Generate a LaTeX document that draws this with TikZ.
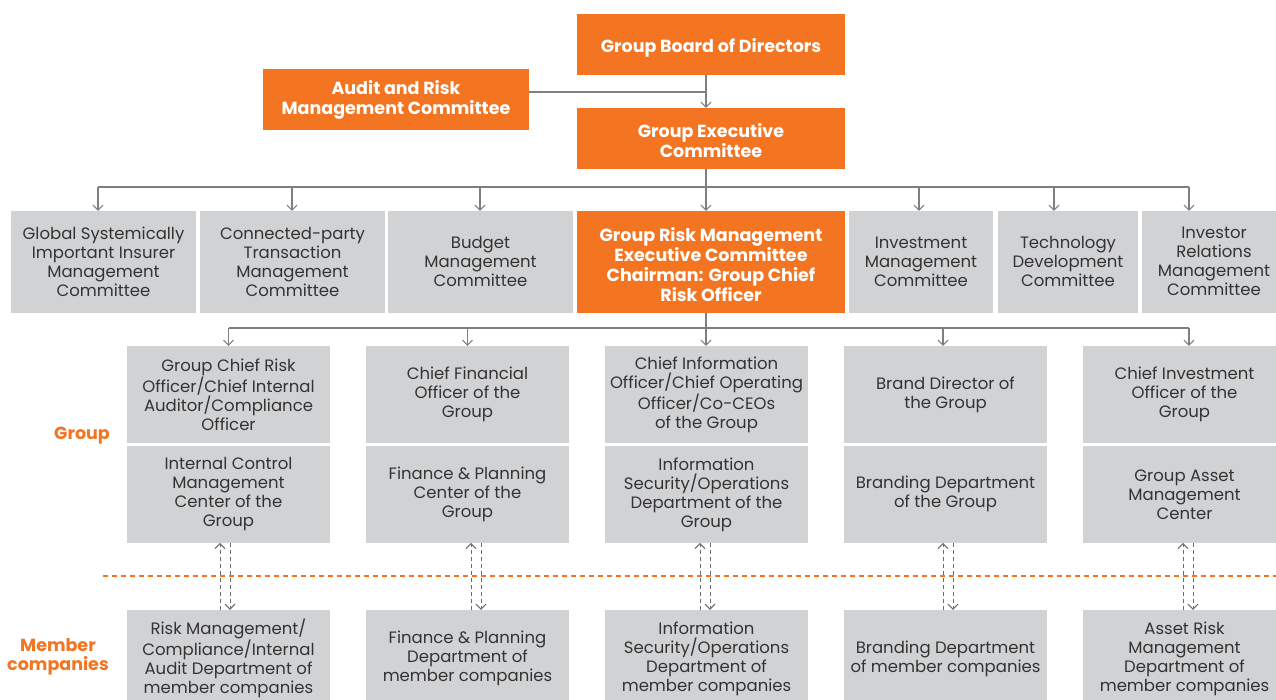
\documentclass[tikz,border=0pt]{standalone}
\usepackage{fontspec}
\setmainfont{Poppins}
\usetikzlibrary{arrows.meta}
\definecolor{pao}{HTML}{F37521}
\definecolor{paogray}{HTML}{D1D2D4}
\definecolor{paotext}{HTML}{333333}
\definecolor{paoline}{HTML}{7F7F7F}
\begin{document}
\begin{tikzpicture}[x=1pt,y=-1pt,
  orgbox/.style={fill=pao, inner sep=0pt, minimum width=268pt, minimum height=61pt},
  orgtext/.style={text=white, font=\fontsize{17.5}{20}\selectfont\bfseries,
    align=center, inner sep=0pt},
  graybox/.style={fill=paogray, text=paotext, font=\fontsize{16.5}{19}\selectfont,
    align=center, inner sep=0pt, minimum height=#1},
  graybox/.default=101.5pt,
  link/.style={draw=paoline, line width=1.2pt, -{Straight Barb[length=5pt,width=10pt,line width=1pt]}},
  plain/.style={draw=paoline, line width=1.2pt},
  dlink/.style={draw=paoline!85!black, line width=1pt, dash pattern=on 4pt off 3pt,
    -{Straight Barb[length=5pt,width=10pt,line width=1pt]}},
  tierlabel/.style={text=pao, font=\fontsize{17.5}{19}\selectfont\bfseries, align=center}
]
\clip (0,0) rectangle (1276,699);
\fill[white] (0,0) rectangle (1276,699);

% top governance
\node[orgbox] (bod) at (711,44.5) {};
\node[orgtext] (bod-t) at ([yshift=-3pt]bod.center) {Group Board of Directors};
\node[orgbox, minimum width=266pt] (arm) at (396,99.5) {};
\node[orgtext] (arm-t) at (arm.center) {Audit and Risk\\Management Committee};
\node[orgbox] (gec) at (711,138.5) {};
\node[orgtext] (gec-t) at ([yshift=-2pt]gec.center) {Group Executive\\Committee};

% committees under the executive committee
\node[graybox, minimum width=185pt] (c1) at (103.5,261.75) {Global Systemically\\Important Insurer\\Management\\Committee};
\node[graybox, minimum width=185pt] (c2) at (292.5,261.75) {Connected-party\\Transaction\\Management\\Committee};
\node[graybox, minimum width=185pt] (c3) at (480.5,261.75) {Budget\\Management\\Committee};
\node[orgbox, minimum height=101.5pt] (grm) at (711,261.75) {};
\node[orgtext] (grm-t) at ([yshift=-3pt]grm.center) {Group Risk Management\\Executive Committee\\Chairman: Group Chief\\Risk Officer};
\node[graybox, minimum width=144pt] (c5) at (921,261.75) {Investment\\Management\\Committee};
\node[graybox, minimum width=140pt] (c6) at (1068,261.75) {Technology\\Development\\Committee};
\node[graybox, minimum width=144pt] (c7) at (1214,261.75) {Investor\\Relations\\Management\\Committee};

% group-level officers and departments
\foreach \n/\cx/\up/\dn in {
  1/228.5/{Group Chief Risk\\Officer/Chief Internal\\Auditor/Compliance\\Officer}/{Internal Control\\Management\\Center of the\\Group},
  2/467.5/{Chief Financial\\Officer of the\\Group}/{Finance \& Planning\\Center of the\\Group},
  3/706.5/{Chief Information\\Officer/Chief Operating\\Officer/Co-CEOs\\of the Group}/{Information\\Security/Operations\\Department of the\\Group},
  4/945.5/{Brand Director of\\the Group}/{Branding Department\\of the Group},
  5/1184.5/{Chief Investment\\Officer of the\\Group}/{Group Asset\\Management\\Center}} {
  \node[graybox=96.7pt, minimum width=203pt] (o\n) at (\cx,394.35) {\up};
  \node[graybox=96.7pt, minimum width=203pt] (d\n) at (\cx,494.35) {\dn};
}

% member-company departments
\foreach \n/\cx/\txt in {
  1/228.5/{Risk Management/\\Compliance/Internal\\Audit Department of\\member companies},
  2/467.5/{Finance \& Planning\\Department of\\member companies},
  3/706.5/{Information\\Security/Operations\\Department of\\member companies},
  4/945.5/{Branding Department\\of member companies},
  5/1184.5/{Asset Risk\\Management\\Department of\\member companies}} {
  \node[graybox=97pt, minimum width=203pt] (m\n) at (\cx,658.5) {\txt};
}

% tier labels and the group / member boundary
\node[tierlabel] (lgroup) at (82,436) {Group};
\node[tierlabel] (lmember) at (58,656.5) {Member\\companies};
\coordinate (bl) at (103,576);
\coordinate (br) at (1276,576);
\draw[pao, line width=1.2pt, dash pattern=on 5pt off 4pt] (bl) -- (br);

% board -> executive committee, audit committee joins the line
\draw[link] ([xshift=-5pt]bod.south) -- ([xshift=-5pt]gec.north);
\draw[plain] (arm.east |- 0,92) -- ([xshift=-5pt]bod.south |- 0,92);

% executive committee -> committees
\coordinate (busA) at (0,187);
\draw[plain] ([xshift=-5.5pt]c1.north |- busA) -- ([xshift=-25pt]c7.north |- busA);
\draw[link] ([xshift=-5pt]gec.south) -- ([xshift=-5pt]grm.north);
\foreach \b/\dx in {c1/-5.5, c2/-0.5, c3/-0.5, c5/-2, c6/-14, c7/-25}
  \draw[link] ([xshift=\dx pt]\b.north |- busA) -- ([xshift=\dx pt]\b.north);

% risk committee -> group officers
\coordinate (busB) at (0,328);
\draw[plain] (o1.north |- busB) -- ([xshift=4.5pt]o5.north |- busB);
\draw[link] ([xshift=-5pt]grm.south) -- ([xshift=-0.5pt]o3.north);
\foreach \b/\dx in {o1/0, o2/0, o4/-2.5, o5/4.5}
  \draw[link] ([xshift=\dx pt]\b.north |- busB) -- ([xshift=\dx pt]\b.north);

% reporting lines across the boundary
\foreach \k/\ua/\da in {1/-8.5/1.5, 2/3.5/13.5, 3/-6.5/3.5, 4/-2.5/7.5, 5/-1.5/8.5} {
  \draw[dlink] ([xshift=\ua pt]m\k.north) -- ([xshift=\ua pt]d\k.south);
  \draw[dlink] ([xshift=\da pt]d\k.south) -- ([xshift=\da pt]m\k.north);
}
\end{tikzpicture}
\end{document}
